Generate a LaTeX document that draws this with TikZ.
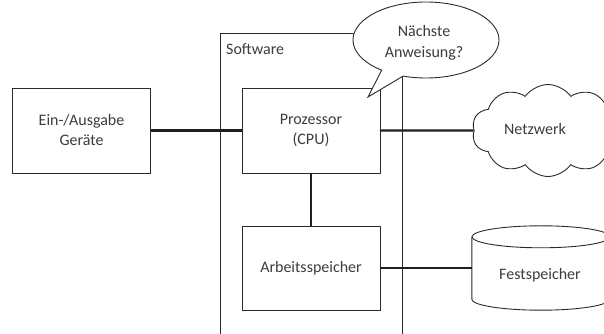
\documentclass[tikz,border=0pt]{standalone}
\usepackage{fontspec}
\setmainfont{Carlito}
\usetikzlibrary{shapes.symbols,calc}
\definecolor{txt}{HTML}{3C3C3C}
\definecolor{ln}{HTML}{2A2A2A}
\tikzset{
  boxnode/.style={draw=ln, line width=0.9pt, minimum width=138pt, minimum height=85pt, align=center, text=txt, font=\fontsize{16}{20}\selectfont, inner sep=0pt},
  conn/.style={line width=2.4pt, draw=black!88},
  thin/.style={draw=ln, line width=0.9pt}
}
\begin{document}
\begin{tikzpicture}[x=1pt,y=1pt]
\useasboundingbox (0,0) rectangle (604,334);
\clip (0,0) rectangle (604,334);
% software frame
\draw[thin] (220,-10) rectangle (402,301);
\node[anchor=west, text=txt, font=\fontsize{16}{20}\selectfont, inner sep=0pt] (sw) at (226,285) {Software};
% boxes
\node[boxnode] (ein) at (81.5,203.5) {Ein-/Ausgabe\\Geräte};
\node[boxnode] (cpu) at (311,203.5) {Prozessor\\(CPU)};
\node[boxnode, minimum height=84pt] (ram) at (311,66) {Arbeitsspeicher};
\node[cloud, draw=ln, line width=0.9pt, cloud puffs=10, cloud puff arc=110, cloud ignores aspect, minimum width=152pt, minimum height=92pt, inner sep=0pt] (net) at (548,203.5) {};
\node[text=txt, font=\fontsize{16}{20}\selectfont] (nettext) at (535,205) {Netzwerk};
% cylinder
\node[minimum width=138pt, minimum height=84pt, inner sep=0pt] (fest) at (541,66) {};
\node[text=txt, font=\fontsize{16}{20}\selectfont] (festtext) at (540,59) {Festspeicher};
\draw[thin] ($(fest.north west)+(0,-11)$) -- ($(fest.south west)+(0,11)$)
  arc[start angle=180, end angle=360, x radius=69, y radius=11]
  -- ($(fest.north east)+(0,-11)$);
\draw[thin] ($(fest.north)+(0,-11)$) ellipse [x radius=69, y radius=11];
% connectors
\draw[conn] (ein.east) -- (cpu.west);
\draw[conn] (cpu.east) -- (net.west);
\draw[conn] (cpu.south) -- (ram.north);
\draw[conn] (ram.east) -- (fest.west);
% callout
\coordinate (cc) at (426,294);
\coordinate (tip) at (368,237);
\draw[thin, fill=white] ($(cc)+(251.7:73 and 38)$) arc[start angle=251.7, end angle=592.6, x radius=73, y radius=38] -- (tip) -- cycle;
\node[align=center, text=txt, font=\fontsize{16}{21}\selectfont, inner sep=0pt] (call) at (424,291) {Nächste\\Anweisung?};
\end{tikzpicture}
\end{document}
